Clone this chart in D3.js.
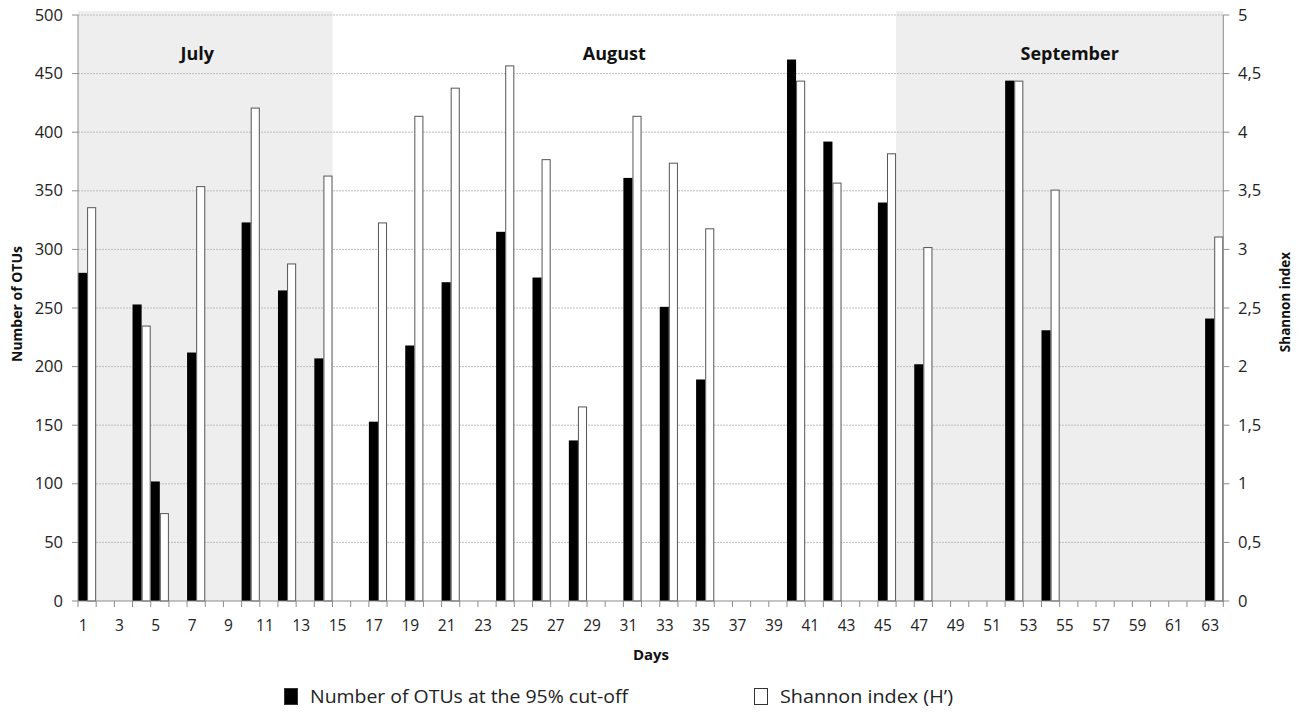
<!DOCTYPE html>
<html>
<head>
<meta charset="utf-8">
<script src="https://cdn.jsdelivr.net/npm/d3@7"></script>
<style>
  html, body { margin: 0; padding: 0; background: #fff; }
  svg { display: block; font-family: "Open Sans", "DejaVu Sans", sans-serif; }
</style>
</head>
<body>
<svg id="chart" width="1301" height="718"></svg>
<script>
// ---- data ----
const days = d3.range(1, 64);                // categories 1..63
const sampleDays = [1, 4, 5, 7, 10, 12, 14, 17, 19, 21, 24, 26, 28, 31, 33, 35, 40, 42, 45, 47, 52, 54, 63];
const otus      = [280, 253, 102, 212, 323, 265, 207, 153, 218, 272, 315, 276, 137, 361, 251, 189, 462, 392, 340, 202, 444, 231, 241];
const shannon   = [3.36, 2.35, 0.75, 3.54, 4.21, 2.88, 3.63, 3.23, 4.14, 4.38, 4.57, 3.77, 1.66, 4.14, 3.74, 3.18, 4.44, 3.57, 3.82, 3.02, 4.44, 3.51, 3.11];
const months     = ["July", "August", "September"];
const monthStart = [1, 15, 46];
const monthEnd   = [14, 45, 63];
const monthShaded = [true, false, true];
const leftTicks  = [0, 50, 100, 150, 200, 250, 300, 350, 400, 450, 500];
const rightTicks = [0, 0.5, 1, 1.5, 2, 2.5, 3, 3.5, 4, 4.5, 5];
const seriesNames = ["Number of OTUs at the 95% cut-off", "Shannon index (H\u2019)"];

// ---- layout ----
const L = 78, R = 1223.3, T = 15, B = 601;
const svg = d3.select("#chart");

const x = d3.scaleBand().domain(days).range([L, R]).padding(0);
const yL = d3.scaleLinear().domain([0, 500]).range([B, T]);
const yR = d3.scaleLinear().domain([0, 5]).range([B, T]);
const bw = x.bandwidth();

// month shading
months.forEach((m, i) => {
  if (monthShaded[i]) {
    svg.append("rect")
      .attr("x", x(monthStart[i]))
      .attr("y", T - 4)
      .attr("width", x(monthEnd[i]) + bw - x(monthStart[i]))
      .attr("height", B - T + 4)
      .attr("fill", "#eeeeee");
  }
});

// gridlines
svg.append("g").selectAll("line").data(leftTicks.filter(t => t > 0)).join("line")
  .attr("x1", L).attr("x2", R)
  .attr("y1", d => yL(d)).attr("y2", d => yL(d))
  .attr("stroke", "#bdbdbd").attr("stroke-width", 1)
  .attr("stroke-dasharray", "2,1");

// month labels (text boxes placed slightly off-centre, as in the original)
const monthLabelShift = [-8, 0, 10];
months.forEach((m, i) => {
  const cx = (x(monthStart[i]) + x(monthEnd[i]) + bw) / 2 + monthLabelShift[i];
  svg.append("text").attr("x", cx).attr("y", 60)
    .attr("text-anchor", "middle").attr("font-weight", "bold")
    .attr("font-size", 18).attr("fill", "#111").text(m);
});

// bars
const data = sampleDays.map((d, i) => ({ day: d, otu: otus[i], h: shannon[i] }));
svg.append("g").selectAll("rect").data(data).join("rect")
  .attr("x", d => x(d.day))
  .attr("y", d => yL(d.otu))
  .attr("width", bw / 2)
  .attr("height", d => B - yL(d.otu))
  .attr("fill", "#000");
svg.append("g").selectAll("rect").data(data).join("rect")
  .attr("x", d => x(d.day) + bw / 2 + 0.5)
  .attr("y", d => yR(d.h) + 0.5)
  .attr("width", bw / 2 - 1)
  .attr("height", d => B - yR(d.h) - 0.5)
  .attr("fill", "#fff")
  .attr("stroke", "#555").attr("stroke-width", 1);

// axes lines
const axisColor = "#8c8c8c";
svg.append("line").attr("x1", L).attr("x2", R).attr("y1", B).attr("y2", B).attr("stroke", axisColor);
svg.append("line").attr("x1", L).attr("x2", L).attr("y1", T).attr("y2", B).attr("stroke", axisColor);
svg.append("line").attr("x1", R).attr("x2", R).attr("y1", T).attr("y2", B).attr("stroke", axisColor);

// x ticks at band boundaries
const bounds = days.map(d => x(d)).concat([R]);
svg.append("g").selectAll("line").data(bounds).join("line")
  .attr("x1", d => d).attr("x2", d => d)
  .attr("y1", B).attr("y2", B + 6)
  .attr("stroke", axisColor);

// x tick labels (odd days)
svg.append("g").selectAll("text").data(days.filter(d => d % 2 === 1)).join("text")
  .attr("x", d => x(d) + bw / 2 - 4)
  .attr("y", 631)
  .attr("text-anchor", "middle")
  .attr("font-size", 15.5).attr("fill", "#222")
  .text(d => d);

// left axis
svg.append("g").selectAll("line").data(leftTicks).join("line")
  .attr("x1", L - 6).attr("x2", L)
  .attr("y1", d => yL(d)).attr("y2", d => yL(d))
  .attr("stroke", axisColor);
svg.append("g").selectAll("text").data(leftTicks).join("text")
  .attr("x", 63).attr("y", d => yL(d) + 5.5)
  .attr("text-anchor", "end").attr("font-size", 16.5).attr("fill", "#222")
  .text(d => d);

// right axis
svg.append("g").selectAll("line").data(rightTicks).join("line")
  .attr("x1", R).attr("x2", R + 6)
  .attr("y1", d => yR(d)).attr("y2", d => yR(d))
  .attr("stroke", axisColor);
svg.append("g").selectAll("text").data(rightTicks).join("text")
  .attr("x", 1238).attr("y", d => yR(d) + 5.5)
  .attr("text-anchor", "start").attr("font-size", 16.5).attr("fill", "#222")
  .text(d => String(d).replace(".", ","));

// axis titles
svg.append("text").attr("transform", "translate(22,304) rotate(-90)")
  .attr("text-anchor", "middle").attr("font-weight", "bold").attr("font-size", 14)
  .attr("fill", "#111").text("Number of OTUs");
svg.append("text").attr("transform", "translate(1290,302) rotate(-90)")
  .attr("text-anchor", "middle").attr("font-weight", "bold").attr("font-size", 13.5)
  .attr("fill", "#111").text("Shannon index");
svg.append("text").attr("x", 651).attr("y", 660)
  .attr("text-anchor", "middle").attr("font-weight", "bold").attr("font-size", 15)
  .attr("fill", "#111").text("Days");

// legend
const legX = [284, 754];
const legFill = ["#000", "#fff"];
const legTextW = [318, 173];
seriesNames.forEach((n, i) => {
  svg.append("rect").attr("x", legX[i] + 0.5).attr("y", 688.5).attr("width", 13).attr("height", 16)
    .attr("fill", legFill[i]).attr("stroke", "#333").attr("stroke-width", 1);
  svg.append("text").attr("x", legX[i] + 26).attr("y", 703)
    .attr("font-size", 18).attr("fill", "#222")
    .attr("textLength", legTextW[i]).attr("lengthAdjust", "spacingAndGlyphs")
    .text(n);
});
</script>
</body>
</html>
